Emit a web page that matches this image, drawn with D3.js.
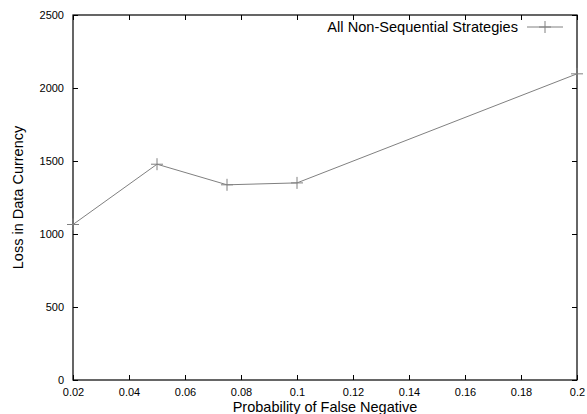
<!DOCTYPE html>
<html><head><meta charset="utf-8">
<script src="https://cdn.jsdelivr.net/npm/d3@7"></script>
<style>body{margin:0;background:#fff}svg{display:block}text{font-family:"Liberation Sans",Arial,sans-serif;fill:#000}</style>
</head><body><svg id="c" width="587" height="414"></svg>
<script>
const xValues = [0.02, 0.05, 0.075, 0.1, 0.2];
const lossValues = [1065, 1478, 1337, 1350, 2097];
const xTicks = [0.02,0.04,0.06,0.08,0.1,0.12,0.14,0.16,0.18,0.2];
const yTicks = [0,500,1000,1500,2000,2500];
const seriesName = "All Non-Sequential Strategies";

const svg = d3.select("#c");
const L=73,R=577,T=15,B=380;
const x = d3.scaleLinear().domain([0.02,0.2]).range([L,R]);
const y = d3.scaleLinear().domain([0,2500]).range([B,T]);
const tk=5;
const fmt = d => String(+d.toFixed(3));

const gb = svg.append("g").attr("transform",`translate(0,${B})`)
  .call(d3.axisBottom(x).tickValues(xTicks).tickSize(-tk).tickPadding(8).tickFormat(fmt));
const gt = svg.append("g").attr("transform",`translate(0,${T})`)
  .call(d3.axisTop(x).tickValues(xTicks).tickSize(-tk).tickFormat(""));
const gl = svg.append("g").attr("transform",`translate(${L},0)`)
  .call(d3.axisLeft(y).tickValues(yTicks).tickSize(-tk).tickPadding(9).tickFormat(d3.format("d")));
const gr = svg.append("g").attr("transform",`translate(${R},0)`)
  .call(d3.axisRight(y).tickValues(yTicks).tickSize(-tk).tickFormat(""));
[gb,gt,gl,gr].forEach(g=>{
  g.select(".domain").remove();
  g.selectAll("line").attr("stroke","#000").attr("stroke-width",1);
  g.selectAll("text").attr("font-size",11).attr("font-family","Liberation Sans, Arial, sans-serif").attr("fill","#000");
});
svg.append("rect").attr("x",L).attr("y",T).attr("width",R-L).attr("height",B-T)
  .attr("fill","none").attr("stroke","#000").attr("stroke-width",1.2);

const pts = xValues.map((v,i)=>[v,lossValues[i]]);
svg.append("path").datum(pts)
  .attr("d",d3.line().x(d=>x(d[0])).y(d=>y(d[1])))
  .attr("fill","none").attr("stroke","#808080").attr("stroke-width",1);
const cs=6;
svg.append("g").selectAll("path.m").data(pts).join("path")
  .attr("d",d=>`M${x(d[0])-cs},${y(d[1])}H${x(d[0])+cs}M${x(d[0])},${y(d[1])-cs}V${y(d[1])+cs}`)
  .attr("stroke","#808080").attr("stroke-width",1).attr("fill","none");

const ly=27;
svg.append("text").attr("x",518).attr("y",ly).attr("dy","0.35em").attr("text-anchor","end")
  .attr("font-size",14.6).text(seriesName);
svg.append("path").attr("d",`M527,${ly}H563M${545-cs},${ly}H${545+cs}M545,${ly-cs}V${ly+cs}`)
  .attr("stroke","#808080").attr("stroke-width",1);

svg.append("text").attr("x",325).attr("y",412).attr("text-anchor","middle").attr("font-size",14.5)
  .text("Probability of False Negative");
svg.append("text").attr("transform",`translate(23,${(T+B)/2}) rotate(-90)`).attr("text-anchor","middle")
  .attr("font-size",14.5).text("Loss in Data Currency");
</script></body></html>
